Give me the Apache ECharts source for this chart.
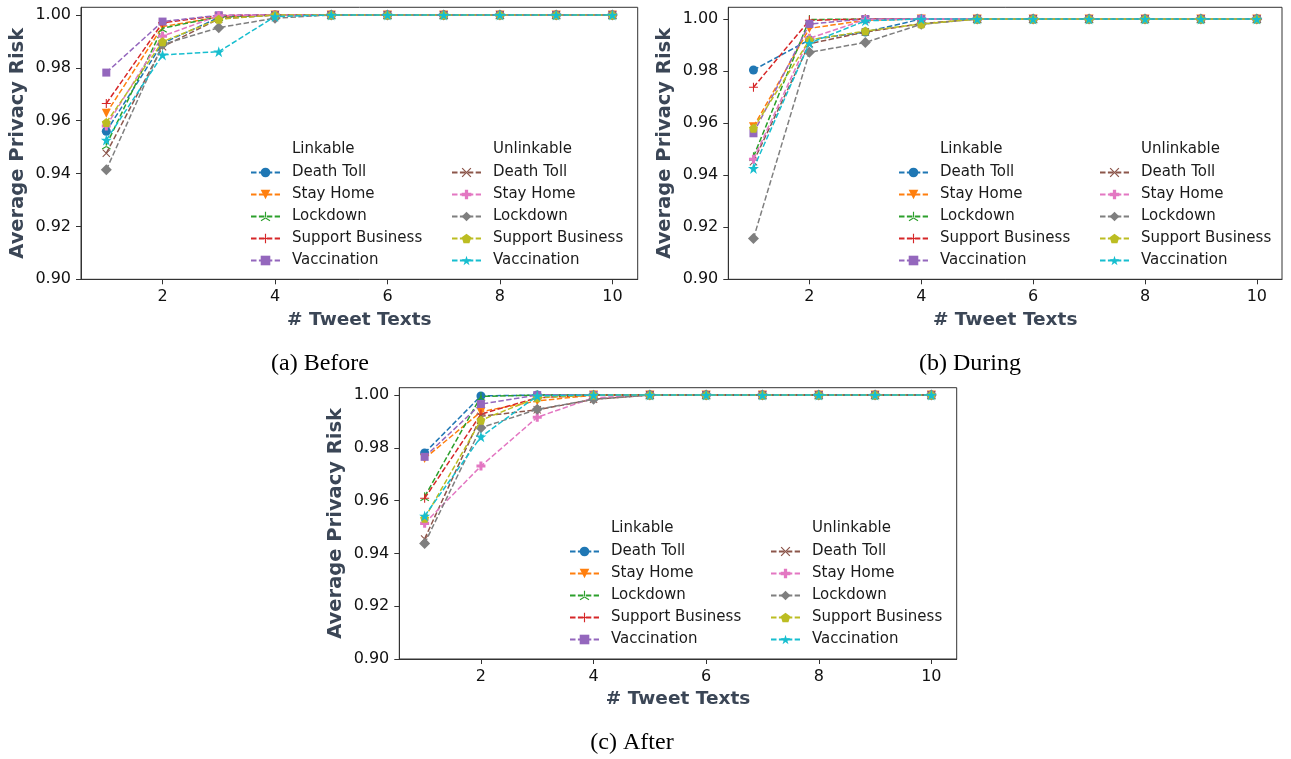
<!DOCTYPE html>
<html>
<head>
<meta charset="utf-8">
<script src="https://cdn.jsdelivr.net/npm/echarts@6/dist/echarts.min.js"></script>
<style>
html,body{margin:0;padding:0;background:#fff;}
#chart{width:1291px;height:759px;}
</style>
</head>
<body>
<div id="chart"></div>
<script>
// ---------- data ----------
const tweetTexts = [1, 2, 3, 4, 5, 6, 7, 8, 9, 10];
const xTicks = [2, 4, 6, 8, 10];
const yTicks = [0.90, 0.92, 0.94, 0.96, 0.98, 1.00];
const topics = ['Death Toll', 'Stay Home', 'Lockdown', 'Support Business', 'Vaccination'];
const groupLabels = ['Linkable', 'Unlinkable'];
const captions = ['(a) Before', '(b) During', '(c) After'];

// (a) Before
const beforeLinkDeathToll   = [0.9560, 0.9893, 0.9990, 1.0000, 1, 1, 1, 1, 1, 1];
const beforeLinkStayHome    = [0.9628, 0.9956, 0.9992, 1.0000, 1, 1, 1, 1, 1, 1];
const beforeLinkLockdown    = [0.9508, 0.9950, 0.9993, 1.0000, 1, 1, 1, 1, 1, 1];
const beforeLinkSupport     = [0.9665, 0.9970, 0.9998, 1.0000, 1, 1, 1, 1, 1, 1];
const beforeLinkVaccination = [0.9782, 0.9975, 0.9999, 1.0000, 1, 1, 1, 1, 1, 1];
const beforeUnlDeathToll    = [0.9477, 0.9880, 0.9985, 1.0000, 1, 1, 1, 1, 1, 1];
const beforeUnlStayHome     = [0.9580, 0.9920, 0.9997, 1.0000, 1, 1, 1, 1, 1, 1];
const beforeUnlLockdown     = [0.9414, 0.9888, 0.9952, 0.9988, 1, 1, 1, 1, 1, 1];
const beforeUnlSupport      = [0.9593, 0.9899, 0.9984, 1.0000, 1, 1, 1, 1, 1, 1];
const beforeUnlVaccination  = [0.9527, 0.9849, 0.9861, 0.9994, 1, 1, 1, 1, 1, 1];

// (b) During
const duringLinkDeathToll   = [0.9804, 0.9920, 0.9950, 1.0000, 1, 1, 1, 1, 1, 1];
const duringLinkStayHome    = [0.9586, 0.9964, 0.9995, 1.0000, 1, 1, 1, 1, 1, 1];
const duringLinkLockdown    = [0.9471, 0.9998, 1.0000, 1.0000, 1, 1, 1, 1, 1, 1];
const duringLinkSupport     = [0.9738, 0.9995, 1.0000, 1.0000, 1, 1, 1, 1, 1, 1];
const duringLinkVaccination = [0.9561, 0.9981, 1.0000, 1.0000, 1, 1, 1, 1, 1, 1];
const duringUnlDeathToll    = [0.9452, 0.9905, 0.9950, 0.9982, 1, 1, 1, 1, 1, 1];
const duringUnlStayHome     = [0.9461, 0.9926, 0.9998, 1.0000, 1, 1, 1, 1, 1, 1];
const duringUnlLockdown     = [0.9157, 0.9872, 0.9910, 0.9980, 1, 1, 1, 1, 1, 1];
const duringUnlSupport      = [0.9580, 0.9919, 0.9954, 0.9981, 1, 1, 1, 1, 1, 1];
const duringUnlVaccination  = [0.9426, 0.9907, 0.9993, 1.0000, 1, 1, 1, 1, 1, 1];

// (c) After
const afterLinkDeathToll    = [0.9781, 0.9997, 1.0000, 1.0000, 1, 1, 1, 1, 1, 1];
const afterLinkStayHome     = [0.9760, 0.9937, 0.9978, 1.0000, 1, 1, 1, 1, 1, 1];
const afterLinkLockdown     = [0.9615, 0.9995, 1.0000, 1.0000, 1, 1, 1, 1, 1, 1];
const afterLinkSupport      = [0.9609, 0.9928, 0.9990, 1.0000, 1, 1, 1, 1, 1, 1];
const afterLinkVaccination  = [0.9766, 0.9966, 1.0000, 1.0000, 1, 1, 1, 1, 1, 1];
const afterUnlDeathToll     = [0.9455, 0.9920, 0.9944, 0.9984, 1, 1, 1, 1, 1, 1];
const afterUnlStayHome      = [0.9514, 0.9731, 0.9916, 0.9990, 1, 1, 1, 1, 1, 1];
const afterUnlLockdown      = [0.9438, 0.9876, 0.9946, 0.9984, 1, 1, 1, 1, 1, 1];
const afterUnlSupport       = [0.9533, 0.9905, 0.9990, 1.0000, 1, 1, 1, 1, 1, 1];
const afterUnlVaccination   = [0.9542, 0.9842, 0.9997, 1.0000, 1, 1, 1, 1, 1, 1];

const panelData = [
  [beforeLinkDeathToll, beforeLinkStayHome, beforeLinkLockdown, beforeLinkSupport, beforeLinkVaccination,
   beforeUnlDeathToll, beforeUnlStayHome, beforeUnlLockdown, beforeUnlSupport, beforeUnlVaccination],
  [duringLinkDeathToll, duringLinkStayHome, duringLinkLockdown, duringLinkSupport, duringLinkVaccination,
   duringUnlDeathToll, duringUnlStayHome, duringUnlLockdown, duringUnlSupport, duringUnlVaccination],
  [afterLinkDeathToll, afterLinkStayHome, afterLinkLockdown, afterLinkSupport, afterLinkVaccination,
   afterUnlDeathToll, afterUnlStayHome, afterUnlLockdown, afterUnlSupport, afterUnlVaccination]
];

// ---------- styles ----------
const colors = ['#1f77b4', '#ff7f0e', '#2ca02c', '#d62728', '#9467bd',
                '#8c564b', '#e377c2', '#7f7f7f', '#bcbd22', '#17becf'];
const P = 'path://';
const symbols = [
  'circle',
  P + 'M0,0 L10,0 L5,8.66 Z',                                   // triangle down
  P + 'M4.45,0 L5.55,0 L5.55,5.2 L4.45,5.2 Z M5.3,5.45 L9.6,7.95 L9.05,8.9 L4.75,6.4 Z M4.7,5.45 L0.4,7.95 L0.95,8.9 L5.25,6.4 Z', // tri up
  P + 'M4.4,0 H5.6 V4.4 H10 V5.6 H5.6 V10 H4.4 V5.6 H0 V4.4 H4.4 Z', // thin plus
  'rect',
  P + 'M0,0.9 L0.9,0 L5,4.1 L9.1,0 L10,0.9 L5.9,5 L10,9.1 L9.1,10 L5,5.9 L0.9,10 L0,9.1 L4.1,5 Z', // x
  P + 'M3.3,0 H6.7 V3.3 H10 V6.7 H6.7 V10 H3.3 V6.7 H0 V3.3 H3.3 Z', // filled plus
  'diamond',
  P + 'M5,0 L9.755,3.455 L7.939,9.045 L2.061,9.045 L0.245,3.455 Z', // pentagon
  P + 'M5,0 L6.123,3.455 L9.755,3.455 L6.817,5.59 L7.939,9.045 L5,6.91 L2.061,9.045 L3.183,5.59 L0.245,3.455 L3.877,3.455 Z' // star
];
const symbolSizes = [9, 9, 9, 9, 8, 8, 9, 11, 9, 11];

const FONT = 'DejaVu Sans';
const TITLE_COLOR = '#3b4656';
const AX = '#333333';

const grids = [
  {left: 81, top: 7.3, width: 556.7, height: 272},
  {left: 728.3, top: 7.3, width: 553.7, height: 272},
  {left: 399.3, top: 387.7, width: 557.4, height: 271.3}
];
const yMax = [1.0029, 1.0045, 1.0028];

// legend placement: [leftColX, rightColX, firstRowTop]
const legendPos = [
  {lx: 250, rx: 451, top: 165},
  {lx: 898, rx: 1099, top: 165},
  {lx: 569, rx: 770, top: 544}
];
const captionPos = [[320, 364], [970, 364], [632, 743]];

const option = {
  backgroundColor: '#ffffff',
  animation: false,
  grid: [], xAxis: [], yAxis: [], series: [], legend: [], graphic: []
};

grids.forEach((g, p) => {
  option.grid.push(Object.assign({show: true, borderColor: AX, borderWidth: 1, containLabel: false}, g));
  option.xAxis.push({
    type: 'value', gridIndex: p, min: 0.55, max: 10.45,
    name: '# Tweet Texts', nameLocation: 'middle', nameGap: 31,
    nameTextStyle: {fontFamily: FONT, fontSize: 18.5, fontWeight: 'bold', color: TITLE_COLOR},
    axisLine: {show: true, onZero: false, lineStyle: {color: AX, width: 1}},
    axisTick: {show: true, length: 5, lineStyle: {color: AX}, customValues: xTicks},
    axisLabel: {fontFamily: FONT, fontSize: 16, color: '#111', margin: 10, customValues: xTicks,
                formatter: v => String(v)},
    splitLine: {show: false}
  });
  option.yAxis.push({
    type: 'value', gridIndex: p, min: 0.9, max: yMax[p],
    name: 'Average Privacy Risk', nameLocation: 'middle', nameGap: 53, nameRotate: 90,
    nameTextStyle: {fontFamily: FONT, fontSize: 19.5, fontWeight: 'bold', color: TITLE_COLOR},
    axisLine: {show: true, onZero: false, lineStyle: {color: AX, width: 1}},
    axisTick: {show: true, length: 5, lineStyle: {color: AX}, customValues: yTicks},
    axisLabel: {fontFamily: FONT, fontSize: 16, color: '#111', margin: 10, customValues: yTicks,
                formatter: v => v.toFixed(2)},
    splitLine: {show: false}
  });

  const names = [];
  panelData[p].forEach((arr, s) => {
    const name = 'p' + p + '_' + s;
    names.push(name);
    option.series.push({
      type: 'line', name: name, xAxisIndex: p, yAxisIndex: p,
      data: tweetTexts.map((x, i) => [x, arr[i]]),
      symbol: symbols[s], symbolSize: symbolSizes[s], showSymbol: true,
      lineStyle: {color: colors[s], width: 1.5, type: [5.5, 2.4]},
      itemStyle: {color: colors[s], borderWidth: 0},
      emphasis: {disabled: true}, z: 2 + s
    });
  });

  const lp = legendPos[p];
  [0, 1].forEach(col => {
    option.legend.push({
      orient: 'vertical', left: col === 0 ? lp.lx : lp.rx, top: lp.top, padding: 0,
      itemWidth: 29, itemHeight: 12, itemGap: 7,
      selectedMode: false,
      data: names.slice(col * 5, col * 5 + 5),
      formatter: n => topics[parseInt(n.split('_')[1]) % 5],
      textStyle: {fontFamily: FONT, fontSize: 15, color: '#1a1a1a', lineHeight: 14, padding: [0, 0, 0, 7]}
    });
    option.graphic.push({
      type: 'text', left: (col === 0 ? lp.lx : lp.rx) + 42, top: lp.top - 23,
      style: {text: groupLabels[col], font: '15px "DejaVu Sans"', fill: '#1a1a1a'}
    });
  });

  option.graphic.push({
    type: 'text', x: captionPos[p][0], y: captionPos[p][1],
    style: {text: captions[p], font: '24px "Liberation Serif"', fill: '#000',
            textAlign: 'center', textVerticalAlign: 'middle'}
  });
});

const chart = echarts.init(document.getElementById('chart'), null, {renderer: 'canvas'});
chart.setOption(option);
</script>
</body>
</html>
